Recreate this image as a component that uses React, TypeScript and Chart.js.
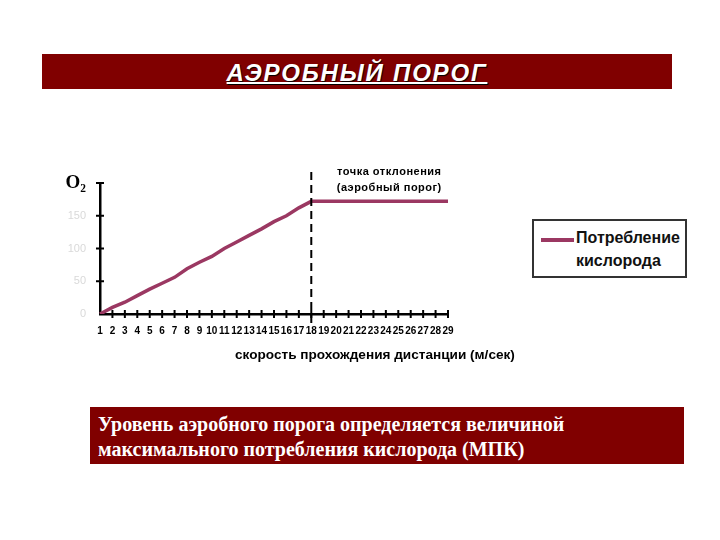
import React, { useEffect, useRef } from "react";
import { Chart, registerables } from "chart.js";

Chart.register(...registerables);

const speedLabels: string[] = [
  "1", "2", "3", "4", "5", "6", "7", "8", "9", "10", "11", "12", "13", "14", "15",
  "16", "17", "18", "19", "20", "21", "22", "23", "24", "25", "26", "27", "28", "29",
];
const oxygenValues: number[] = [
  0, 10, 18, 28, 38, 47, 56, 69, 79, 88, 100, 110, 120, 130, 141, 150, 162, 172,
  172, 172, 172, 172, 172, 172, 172, 172, 172, 172, 172,
];
const yTickValues: number[] = [0, 50, 100, 150, 200];
const thresholdLabel = "18";
const seriesName = "Потребление кислорода";
const noteLines: string[] = ["точка отклонения", "(аэробный порог)"];

const LINE_COLOR = "#9b3862";
const RED = "#800000";

const decorPlugin = {
  id: "decor",
  afterDraw(chart: any) {
    const { ctx, chartArea, scales } = chart;
    const x = scales.x;
    const y = scales.y;
    ctx.save();
    ctx.strokeStyle = "#000";
    ctx.lineWidth = 2;
    x.ticks.forEach((_t: any, i: number) => {
      if (i === 0) return;
      const px = x.getPixelForTick(i);
      ctx.beginPath();
      ctx.moveTo(px, chartArea.bottom - 4);
      ctx.lineTo(px, chartArea.bottom + 4);
      ctx.stroke();
    });
    y.ticks.forEach((_t: any, i: number) => {
      if (i === 0) return;
      const py = y.getPixelForTick(i);
      ctx.beginPath();
      ctx.moveTo(chartArea.left - 4, py);
      ctx.lineTo(chartArea.left + 4, py);
      ctx.stroke();
    });
    const tx = x.getPixelForValue(speedLabels.indexOf(thresholdLabel));
    ctx.setLineDash([8, 5]);
    ctx.lineWidth = 2;
    ctx.beginPath();
    ctx.moveTo(tx, chartArea.top - 11);
    ctx.lineTo(tx, chartArea.bottom + 11);
    ctx.stroke();
    ctx.setLineDash([]);
    ctx.fillStyle = "#000";
    ctx.font = "bold 11px 'Liberation Sans', Arial, sans-serif";
    try {
      (ctx as any).letterSpacing = "0.5px";
    } catch (e) {}
    ctx.textAlign = "center";
    ctx.textBaseline = "middle";
    ctx.fillText(noteLines[0], tx + 78, chartArea.top - 11);
    ctx.fillText(noteLines[1], tx + 78, chartArea.top + 5);
    ctx.restore();
  },
};

function ChartCanvas() {
  const ref = useRef<HTMLCanvasElement | null>(null);
  useEffect(() => {
    if (!ref.current) return;
    const chart = new Chart(ref.current, {
      type: "line",
      data: {
        labels: speedLabels,
        datasets: [
          {
            label: seriesName,
            data: oxygenValues,
            borderColor: LINE_COLOR,
            backgroundColor: LINE_COLOR,
            borderWidth: 3.5,
            pointRadius: 0,
            tension: 0,
          },
        ],
      },
      options: {
        responsive: false,
        animation: false,
        layout: { padding: { top: 183, left: 60, right: 272, bottom: 196 } },
        plugins: {
          legend: { display: false },
          tooltip: { enabled: false },
          title: { display: false },
        },
        scales: {
          x: {
            type: "category",
            offset: false,
            grid: { display: false },
            border: { display: true, color: "#000", width: 2.5 },
            ticks: {
              autoSkip: false,
              maxRotation: 0,
              minRotation: 0,
              padding: 3,
              color: "#000",
              font: { family: "'Liberation Sans', Arial, sans-serif", size: 10, weight: "bold" },
            },
            afterFit: (s: any) => {
              s.height = 30;
            },
          },
          y: {
            min: 0,
            max: 200,
            grid: { display: false },
            border: { display: true, color: "#000", width: 2.5 },
            afterBuildTicks: (s: any) => {
              s.ticks = yTickValues.map((v) => ({ value: v }));
            },
            ticks: {
              padding: 6,
              callback: (v: any) => (Number(v) === 200 ? "O₂" : String(v)),
              color: (c: any) => (c.tick && c.tick.value === 200 ? "#000" : "#d9d9d9"),
              font: (c: any) =>
                c.tick && c.tick.value === 200
                  ? { family: "'Liberation Serif', 'Times New Roman', serif", size: 19, weight: "bold" }
                  : { family: "'Liberation Sans', Arial, sans-serif", size: 11 },
            },
            afterFit: (s: any) => {
              s.width = 40;
            },
          },
        },
      },
      plugins: [decorPlugin],
    });
    return () => chart.destroy();
  }, []);
  return (
    <canvas
      ref={ref}
      width={720}
      height={540}
      style={{ position: "absolute", left: 0, top: 0, width: 720, height: 540 }}
    />
  );
}

export default function App() {
  return (
    <div
      style={{
        position: "absolute",
        left: 0,
        top: 0,
        width: 720,
        height: 540,
        background: "#fff",
        overflow: "hidden",
        fontFamily: "'Liberation Sans', Arial, sans-serif",
      }}
    >
      <div
        style={{
          position: "absolute",
          left: 42,
          top: 54,
          width: 630,
          height: 35,
          background: RED,
          color: "#fff",
          textAlign: "center",
          fontSize: 24,
          letterSpacing: "1.8px",
          fontWeight: "bold",
          fontStyle: "italic",
          lineHeight: "37px",
          textDecoration: "underline",
          textDecorationThickness: "2px",
          textShadow: "1px 1px 1px #000",
        }}
      >
        АЭРОБНЫЙ ПОРОГ
      </div>
      <ChartCanvas />
      <div
        style={{
          position: "absolute",
          left: 235,
          top: 347,
          fontSize: 13.6,
          fontWeight: "bold",
          color: "#000",
          whiteSpace: "nowrap",
        }}
      >
        скорость прохождения дистанции (м/сек)
      </div>
      <div
        style={{
          position: "absolute",
          left: 532,
          top: 219,
          width: 151,
          height: 55,
          border: "2px solid #333",
          background: "#fff",
        }}
      >
        <div
          style={{
            position: "absolute",
            left: 7,
            top: 17,
            width: 33,
            height: 4,
            background: LINE_COLOR,
          }}
        />
        <div
          style={{
            position: "absolute",
            left: 42,
            top: 5,
            fontSize: 16,
            fontWeight: "bold",
            lineHeight: "23px",
            color: "#111",
            whiteSpace: "nowrap",
          }}
        >
          Потребление
          <br />
          кислорода
        </div>
      </div>
      <div
        style={{
          position: "absolute",
          left: 90,
          top: 407,
          width: 594,
          height: 57,
          background: RED,
          color: "#fff",
          boxSizing: "border-box",
          padding: "5px 8px",
          fontFamily: "'Liberation Serif', 'Times New Roman', serif",
          fontWeight: "bold",
          fontSize: 20,
          lineHeight: "25px",
        }}
      >
        Уровень аэробного порога определяется величиной
        <br />
        максимального потребления кислорода (МПК)
      </div>
    </div>
  );
}
